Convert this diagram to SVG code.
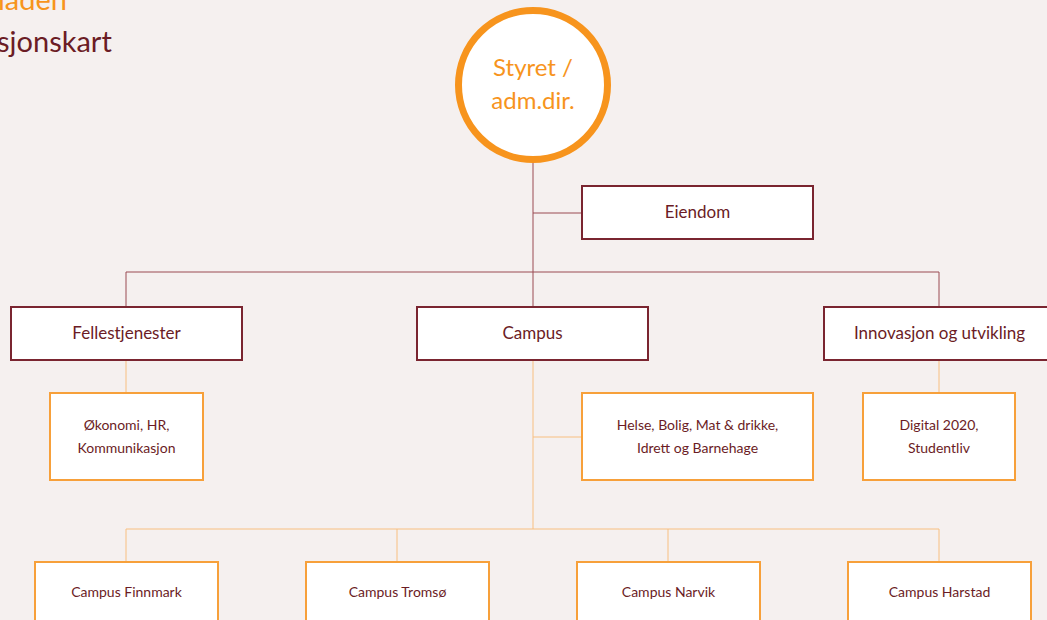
<svg xmlns="http://www.w3.org/2000/svg" width="1047" height="620" viewBox="0 0 1047 620">
<style>
text{font-family:Lato,"Noto Sans","Liberation Sans",sans-serif;text-anchor:middle;fill:#6b1c25}
.dr{fill:#fff;stroke:#7a2530;stroke-width:2}
.or{fill:#fff;stroke:#f7a03a;stroke-width:2}
.l2{font-size:17px}
.l3{font-size:14px}
.cd{stroke:#9a4a52;stroke-width:1;fill:none}
.co{stroke:#f8bf80;stroke-width:1;fill:none}
</style>
<rect width="1047" height="620" fill="#f5f0ef"/>
<text x="-2" y="10" style="text-anchor:start;font-size:29px;fill:#f7941d">laden</text>
<text x="-3" y="52" style="text-anchor:start;font-size:29px;fill:#6b1c25">sjonskart</text>
<g id="connectors">
<path class="cd" d="M533 163V306M533 213H582M126 306V272H939V306"/>
<path class="co" d="M533 361V529M533 437H582M126 361V393M939 361V393M126 562V529H939V562M397 529V562M668 529V562"/>
</g>
<g id="styret">
<circle cx="533" cy="85" r="74.5" fill="#fff" stroke="#f7941d" stroke-width="7"/>
<text x="533" y="76" style="font-size:24px;fill:#f7941d">Styret /</text>
<text x="533" y="109" style="font-size:24px;fill:#f7941d">adm.dir.</text>
</g>
<g id="eiendom"><rect class="dr" x="582" y="186" width="231" height="53"/><text class="l2" x="697.5" y="218">Eiendom</text></g>
<g id="fellestjenester"><rect class="dr" x="11" y="307" width="231" height="53"/><text class="l2" x="126.5" y="339">Fellestjenester</text></g>
<g id="campus"><rect class="dr" x="417" y="307" width="231" height="53"/><text class="l2" x="532.5" y="339">Campus</text></g>
<g id="innovasjon"><rect class="dr" x="824" y="307" width="231" height="53"/><text class="l2" x="939.5" y="339">Innovasjon og utvikling</text></g>
<g id="okonomi"><rect class="or" x="50" y="393" width="153" height="87"/><text class="l3" x="126.5" y="430">Økonomi, HR,</text><text class="l3" x="126.5" y="453">Kommunikasjon</text></g>
<g id="helse"><rect class="or" x="582" y="393" width="231" height="87"/><text class="l3" x="697.5" y="430">Helse, Bolig, Mat &amp; drikke,</text><text class="l3" x="697.5" y="453">Idrett og Barnehage</text></g>
<g id="digital"><rect class="or" x="863" y="393" width="152" height="87"/><text class="l3" x="939" y="430">Digital 2020,</text><text class="l3" x="939" y="453">Studentliv</text></g>
<g id="finnmark"><rect class="or" x="35" y="562" width="183" height="70"/><text class="l3" x="126.5" y="597">Campus Finnmark</text></g>
<g id="tromso"><rect class="or" x="306" y="562" width="183" height="70"/><text class="l3" x="397.5" y="597">Campus Tromsø</text></g>
<g id="narvik"><rect class="or" x="577" y="562" width="183" height="70"/><text class="l3" x="668.5" y="597">Campus Narvik</text></g>
<g id="harstad"><rect class="or" x="848" y="562" width="183" height="70"/><text class="l3" x="939.5" y="597">Campus Harstad</text></g>
</svg>
